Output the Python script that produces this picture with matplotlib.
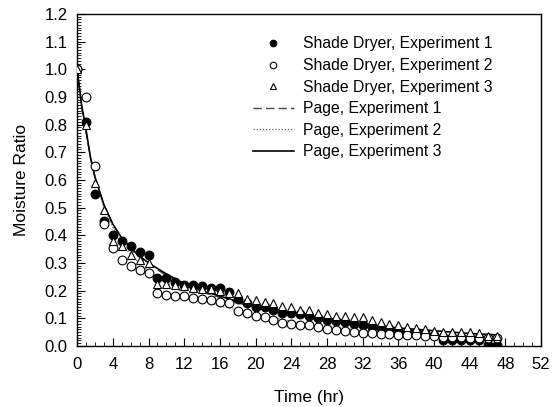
import numpy as np
import matplotlib
matplotlib.use('Agg')
import matplotlib.pyplot as plt
from matplotlib.ticker import MultipleLocator, FormatStrFormatter

plt.rcParams['font.family'] = ['Liberation Sans', 'DejaVu Sans']

# measured points, one per hour
hours = list(range(48))
exp1 = [1.00, 0.81, 0.55, 0.45, 0.40, 0.38, 0.36, 0.34, 0.33, 0.245, 0.245, 0.23,
        0.22, 0.22, 0.215, 0.21, 0.21, 0.195, 0.17, 0.155, 0.14, 0.14, 0.13, 0.12,
        0.12, 0.115, 0.11, 0.10, 0.095, 0.09, 0.085, 0.08, 0.075, 0.07, 0.065, 0.06,
        0.055, 0.05, 0.05, 0.045, 0.04, 0.02, 0.02, 0.02, 0.02, 0.02, 0.002, 0.002]
exp2 = [1.00, 0.90, 0.65, 0.44, 0.355, 0.31, 0.29, 0.275, 0.265, 0.19, 0.185, 0.18,
        0.18, 0.175, 0.17, 0.165, 0.16, 0.155, 0.125, 0.12, 0.11, 0.105, 0.095, 0.083,
        0.08, 0.076, 0.075, 0.07, 0.06, 0.058, 0.055, 0.05, 0.048, 0.045, 0.043, 0.042,
        0.04, 0.04, 0.038, 0.036, 0.035, 0.033, 0.033, 0.032, 0.03, 0.03, 0.03, 0.03]
exp3 = [1.00, 0.80, 0.59, 0.49, 0.38, 0.36, 0.33, 0.31, 0.30, 0.225, 0.225, 0.22,
        0.215, 0.21, 0.205, 0.205, 0.20, 0.19, 0.19, 0.17, 0.165, 0.16, 0.155, 0.145,
        0.14, 0.13, 0.13, 0.12, 0.115, 0.11, 0.11, 0.105, 0.105, 0.095, 0.085, 0.08,
        0.075, 0.07, 0.065, 0.06, 0.055, 0.05, 0.05, 0.05, 0.05, 0.045, 0.035, 0.035]

# Page model curves
t_fit = [0, 0.5, 1, 1.5, 2, 3, 4, 5, 6, 7, 8, 10, 12, 14, 16, 18, 20, 24, 28, 32,
         36, 40, 44, 47]
page1 = [1.0, 0.86, 0.77, 0.68, 0.61, 0.51, 0.44, 0.39, 0.35, 0.32, 0.295, 0.255,
         0.22, 0.195, 0.175, 0.155, 0.14, 0.115, 0.09, 0.07, 0.055, 0.04, 0.03, 0.025]
page2 = [1.0, 0.87, 0.78, 0.68, 0.61, 0.50, 0.43, 0.37, 0.33, 0.30, 0.27, 0.23,
         0.19, 0.165, 0.145, 0.13, 0.115, 0.09, 0.07, 0.055, 0.045, 0.035, 0.03, 0.025]
page3 = [1.0, 0.87, 0.78, 0.68, 0.61, 0.51, 0.44, 0.39, 0.355, 0.325, 0.30, 0.26,
         0.225, 0.20, 0.18, 0.16, 0.145, 0.12, 0.10, 0.08, 0.065, 0.055, 0.045, 0.04]

fig = plt.figure(figsize=(5.55, 4.07), dpi=100)
ax = fig.add_axes([0.139, 0.150, 0.836, 0.816])

ms = 6.3
ax.plot(hours, exp1, 'o', color='black', ms=ms, mew=0.8, label='Shade Dryer, Experiment 1', zorder=3)
ax.plot(hours, exp2, 'o', mfc='white', mec='black', ms=ms, mew=0.8, label='Shade Dryer, Experiment 2', zorder=3)
ax.plot(hours, exp3, '^', mfc='white', mec='black', ms=ms, mew=0.8, label='Shade Dryer, Experiment 3', zorder=3)
ax.plot(t_fit, page1, color='#444444', lw=1.0, ls=(0, (6, 3)), label='Page, Experiment 1', zorder=2)
ax.plot(t_fit, page2, color='#666666', lw=0.9, ls=(0, (1, 1.5)), label='Page, Experiment 2', zorder=2)
ax.plot(t_fit, page3, color='black', lw=1.2, ls='-', label='Page, Experiment 3', zorder=2)

ax.set_xlim(0, 52)
ax.set_ylim(0, 1.2)
ax.xaxis.set_major_locator(MultipleLocator(4))
ax.xaxis.set_minor_locator(MultipleLocator(1))
ax.yaxis.set_major_locator(MultipleLocator(0.1))
ax.yaxis.set_minor_locator(MultipleLocator(0.01))
ax.yaxis.set_major_formatter(FormatStrFormatter('%.1f'))
ax.tick_params(which='both', direction='in', top=False, right=False, labelsize=12)
ax.tick_params(axis='y', which='major', pad=7)
ax.tick_params(axis='x', which='major', pad=8)
ax.tick_params(which='major', length=6, width=0.8)
ax.tick_params(which='minor', length=3, width=0.6)
for s in ax.spines.values():
    s.set_linewidth(1.0)

ax.set_xlabel('Time (hr)', fontsize=12.5, labelpad=13)
ax.set_ylabel('Moisture Ratio', fontsize=12.5, labelpad=11)

ax.legend(loc='upper left', bbox_to_anchor=(0.355, 0.965), frameon=False, fontsize=11.3,
          markerscale=0.75, handlelength=2.6, labelspacing=0.42, handletextpad=0.6,
          borderpad=0.2)

fig.savefig('out.png', dpi=100)
